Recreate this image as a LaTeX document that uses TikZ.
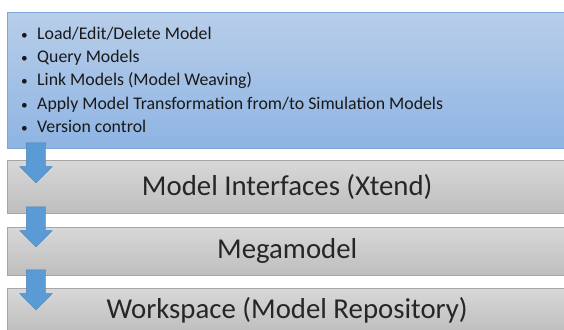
\documentclass[tikz,border=0pt]{standalone}
\usepackage{fontspec}
\setmainfont{Carlito}
\usetikzlibrary{shapes.arrows,positioning}

\definecolor{paneltop}{HTML}{B8CEEA}
\definecolor{panelbot}{HTML}{8EB4E3}
\definecolor{paneledge}{HTML}{7FA6D8}
\definecolor{layertop}{HTML}{D8D8D8}
\definecolor{layerbot}{HTML}{BEBEBE}
\definecolor{layeredge}{HTML}{A6A6A6}
\definecolor{arrowfill}{HTML}{5B9BD5}
\definecolor{arrowedge}{HTML}{4A84BA}

\newcommand{\blt}{\makebox[17pt][l]{\hspace{1pt}\scalebox{0.75}{\textbullet}}}
\newcommand{\itm}[1]{\blt#1\\}

\begin{document}
\begin{tikzpicture}[x=1pt, y=-1pt,
    panel/.style={rectangle, draw=paneledge, top color=paneltop, bottom color=panelbot, minimum width=560pt, minimum height=136pt, anchor=north west, inner sep=0pt},
    layer/.style={rectangle, draw=layeredge, top color=layertop, bottom color=layerbot, minimum width=560pt, anchor=north west, inner sep=0pt, text=black!85, font=\fontsize{28.8}{32}\selectfont},
    flow/.style={single arrow, draw=arrowedge, fill=arrowfill, rotate=-90, inner xsep=0pt, inner ysep=9.5pt, minimum height=40pt, single arrow head extend=6.5pt, single arrow tip angle=90}
]
    \useasboundingbox (0,0) rectangle (564,329);

    % Operationen
    \node[panel] (ops) at (7,12) {};
    \node[anchor=north west, align=left, inner sep=0pt, font=\fontsize{17.8}{23.2}\selectfont, text=black!90] (opslist) at (20,27) {%
        \itm{Load/Edit/Delete Model}
        \itm{Query Models}
        \itm{Link Models (Model Weaving)}
        \itm{Apply Model Transformation from/to Simulation Models}
        \blt Version control};

    % Schichten
    \node[layer, minimum height=53pt] (iface) at (7,160) {Model Interfaces (Xtend)};
    \node[layer, minimum height=48pt] (mega) at (7,227) {Megamodel};
    \node[layer, minimum height=44pt] (work) at (7,288) {Workspace (Model Repository)};

    % Pfeile
    \node[flow] (a1) at (36,158) {};
    \node[flow] (a2) at (36,222) {};
    \node[flow] (a3) at (36,285) {};

\end{tikzpicture}
\end{document}
